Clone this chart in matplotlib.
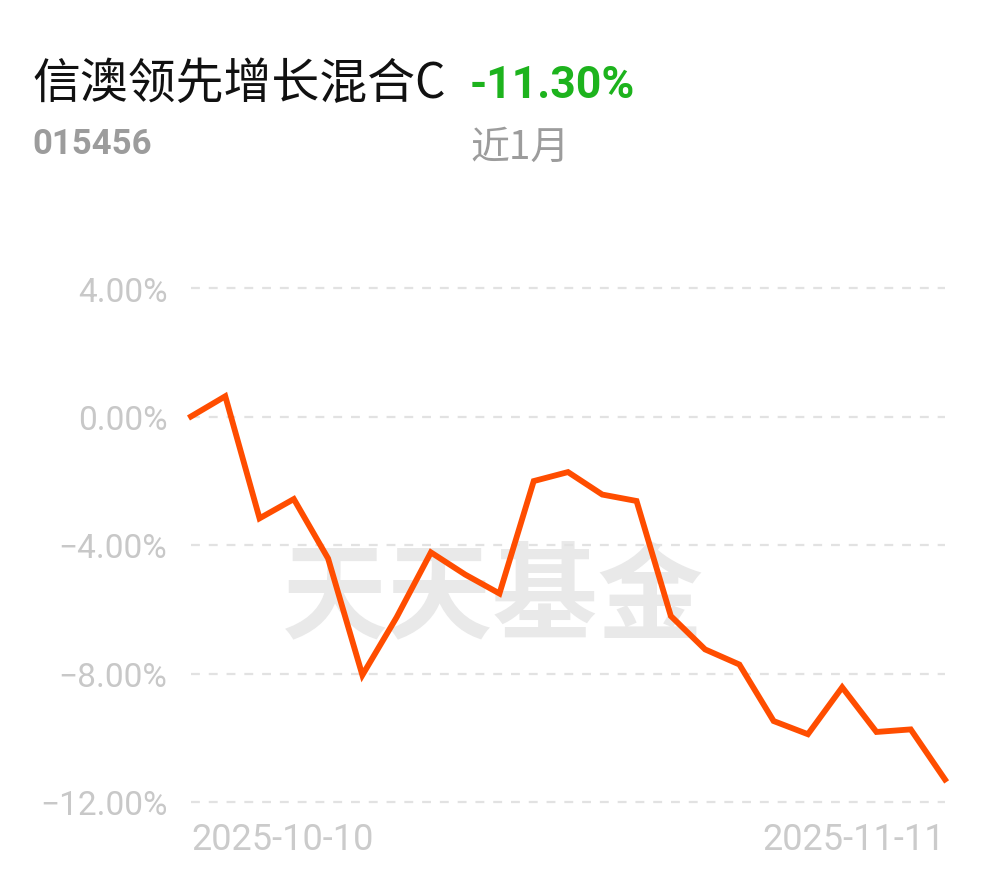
import matplotlib
matplotlib.use("Agg")
import matplotlib.pyplot as plt

# 近1月 累计收益率 (%)
fund_name = "信澳领先增长混合C"
fund_code = "015456"
period = "近1月"
period_return = "-11.30%"
returns = [0.00, 0.63, -3.17, -2.57, -4.42, -8.05, -6.25, -4.23, -4.92, -5.51,
           -2.01, -1.73, -2.43, -2.63, -6.21, -7.25, -7.72, -9.48, -9.89, -8.43,
           -9.82, -9.74, -11.30]
x_labels = ["2025-10-10", "2025-11-11"]
y_ticks = [4, 0, -4, -8, -12]

plt.rcParams['font.family'] = ['Roboto', 'Noto Sans CJK SC', 'DejaVu Sans']

fig = plt.figure(figsize=(9.9, 8.78), dpi=100)
ax = fig.add_axes([191/990, 75/878, 754/990, 514/878])

x = list(range(len(returns)))
ax.plot(x, returns, color='#ff4d00', lw=4.2, solid_joinstyle='miter', zorder=3, clip_on=False)

ax.set_xlim(0, len(returns) - 1)
ax.set_ylim(-12, 4)
ax.set_yticks(y_ticks)
ax.set_yticklabels(["{:.2f}%".format(v).replace("-", "\u2212") for v in y_ticks],
                   fontsize=24, color='#c8c8c8')
for v in y_ticks:
    ax.axhline(v, color='#e2e2e2', lw=1.6, dashes=(4, 4), zorder=1, clip_on=False)

ax.set_xticks([0, len(returns) - 1])
ax.set_xticklabels(x_labels, fontsize=26, color='#cbcbcb')
xl = ax.get_xticklabels()
xl[0].set_ha('left')
xl[1].set_ha('right')
ax.tick_params(axis='both', length=0)
ax.tick_params(axis='y', pad=17)
ax.tick_params(axis='x', pad=14)
for s in ax.spines.values():
    s.set_visible(False)

# 水印
ax.text(0.40, 0.395, "天天基金", transform=ax.transAxes, fontsize=76, color='#e9e9e9',
        family=['Noto Sans CJK SC'], fontweight='bold', ha='center', va='center', zorder=0)

fig.text(32/990, 1 - 84/878, fund_name, fontsize=34.5, color='#111111',
         family=['Noto Sans CJK SC'], ha='left', va='center')
fig.text(470/990, 1 - 86/878, period_return, fontsize=32, color='#1db31d',
         fontweight='bold', ha='left', va='center')
fig.text(32/990, 1 - 145/878, fund_code, fontsize=25, color='#9c9c9c',
         fontweight='bold', ha='left', va='center')
fig.text(470/990, 1 - 148/878, period, fontsize=28, color='#9c9c9c',
         family=['Noto Sans CJK SC', 'Roboto'], ha='left', va='center')

fig.savefig("out.png", dpi=100)
